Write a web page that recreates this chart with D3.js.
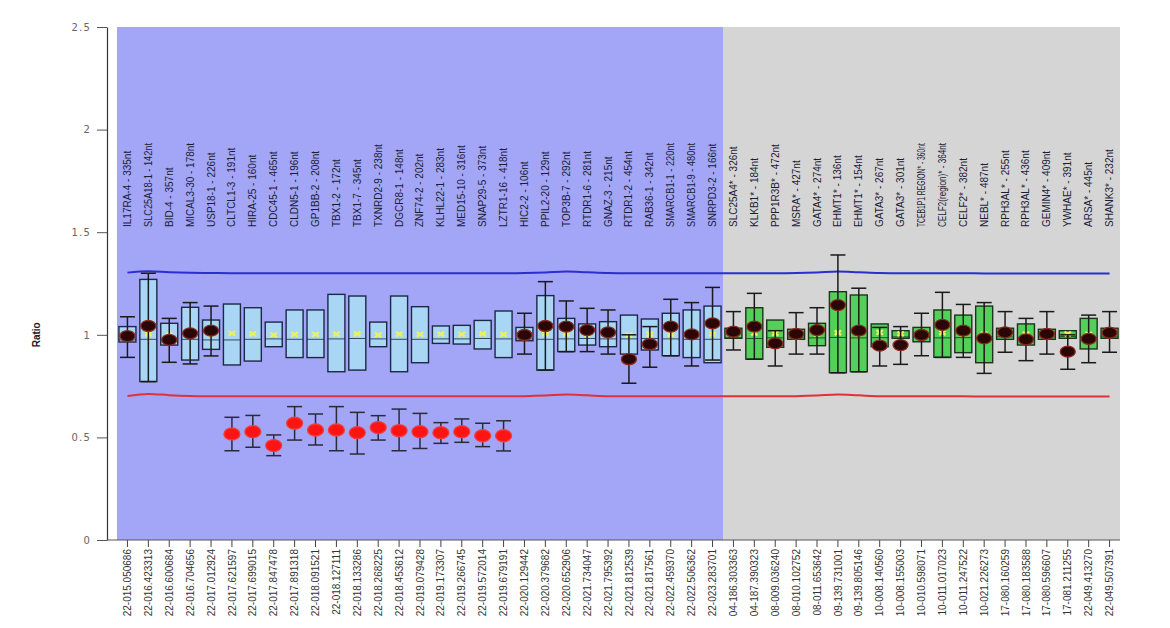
<!DOCTYPE html>
<html>
<head>
<meta charset="utf-8">
<script src="https://cdn.jsdelivr.net/npm/d3@7"></script>
<style>
  body { margin: 0; background: #ffffff; }
  svg { display: block; }
</style>
</head>
<body>
<svg id="chart" width="1170" height="628"></svg>
<script>
// Probe names (top labels)
const probes = [
  "IL17RA-4 - 335nt", "SLC25A18-1 - 142nt", "BID-4 - 357nt", "MICAL3-30 - 178nt",
  "USP18-1 - 226nt", "CLTCL1-3 - 191nt", "HIRA-25 - 160nt", "CDC45-1 - 465nt",
  "CLDN5-1 - 196nt", "GP1BB-2 - 208nt", "TBX1-2 - 172nt", "TBX1-7 - 345nt",
  "TXNRD2-9 - 238nt", "DGCR8-1 - 148nt", "ZNF74-2 - 202nt", "KLHL22-1 - 283nt",
  "MED15-10 - 316nt", "SNAP29-5 - 373nt", "LZTR1-16 - 418nt", "HIC2-2 - 106nt",
  "PPIL2-20 - 129nt", "TOP3B-7 - 292nt", "RTDR1-6 - 281nt", "GNAZ-3 - 215nt",
  "RTDR1-2 - 454nt", "RAB36-1 - 342nt", "SMARCB1-1 - 220nt", "SMARCB1-9 - 480nt",
  "SNRPD3-2 - 166nt",
  "SLC25A4* - 326nt", "KLKB1* - 184nt", "PPP1R3B* - 472nt", "MSRA* - 427nt",
  "GATA4* - 274nt", "EHMT1* - 136nt", "EHMT1* - 154nt", "GATA3* - 267nt",
  "GATA3* - 301nt", "TCEB1P1 REGION* - 360nt", "CELF2(region)* - 364nt", "CELF2* - 382nt",
  "NEBL* - 487nt", "RPH3AL* - 255nt", "RPH3AL* - 436nt", "GEMIN4* - 409nt",
  "YWHAE* - 391nt", "ARSA* - 445nt", "SHANK3* - 232nt"
];

// Genomic positions (bottom tick labels)
const positions = [
  "22-015.050686", "22-016.423313", "22-016.600684", "22-016.704656", "22-017.012924",
  "22-017.621597", "22-017.699015", "22-017.847478", "22-017.891318", "22-018.091521",
  "22-018.127111", "22-018.133286", "22-018.268225", "22-018.453612", "22-019.079428",
  "22-019.173307", "22-019.266745", "22-019.572014", "22-019.679191", "22-020.129442",
  "22-020.379682", "22-020.652906", "22-021.734047", "22-021.795392", "22-021.812539",
  "22-021.817561", "22-022.459370", "22-022.506362", "22-023.283701",
  "04-186.303363", "04-187.390323", "08-009.036240", "08-010.102752", "08-011.653642",
  "09-139.731001", "09-139.805146", "10-008.140560", "10-008.155003", "10-010.598071",
  "10-011.017023", "10-011.247522", "10-021.226273", "17-080.160259", "17-080.183588",
  "17-080.596607", "17-081.211255", "22-049.413270", "22-049.507391"
];

// 0 = test region probes, 1 = reference probes
const probeGroup = [
  0,0,0,0,0,0,0,0,0,0,0,0,0,0,0,0,0,0,0,0,0,0,0,0,0,0,0,0,0,
  1,1,1,1,1,1,1,1,1,1,1,1,1,1,1,1,1,1,1
];

// Control range per probe (box)
const boxLow = [
  0.965, 0.772, 0.950, 0.877, 0.929, 0.853, 0.872, 0.942, 0.889, 0.889,
  0.820, 0.828, 0.942, 0.820, 0.864, 0.958, 0.955, 0.931, 0.889, 0.971,
  0.828, 0.918, 0.950, 0.942, 0.906, 0.926, 0.898, 0.889, 0.864,
  0.983, 0.881, 0.939, 0.978, 0.947, 0.815, 0.820, 0.942, 0.983, 0.966,
  0.890, 0.913, 0.864, 0.978, 0.950, 0.978, 0.983, 0.931, 0.983
];
const boxHigh = [
  1.040, 1.270, 1.056, 1.134, 1.072, 1.150, 1.132, 1.062, 1.121, 1.121,
  1.197, 1.189, 1.062, 1.189, 1.137, 1.043, 1.046, 1.070, 1.116, 1.036,
  1.191, 1.080, 1.053, 1.064, 1.096, 1.077, 1.105, 1.121, 1.140,
  1.032, 1.132, 1.072, 1.027, 1.056, 1.210, 1.194, 1.053, 1.020, 1.036,
  1.121, 1.096, 1.140, 1.032, 1.053, 1.027, 1.020, 1.080, 1.032
];
// Control median and mean
const ctrlMedian = [
  0.975, 0.978, 0.975, 0.978, 0.975, 0.975, 0.978, 0.980, 0.978, 0.978,
  0.980, 0.982, 0.980, 0.978, 0.978, 0.980, 0.980, 0.982, 0.980, 0.980,
  0.978, 0.980, 0.982, 0.980, 0.980, 0.982, 0.980, 0.978, 0.978,
  0.985, 0.982, 0.985, 0.988, 0.985, 0.987, 0.985, 0.986, 0.990, 0.988,
  0.985, 0.986, 0.985, 0.990, 0.986, 0.990, 0.992, 0.986, 0.990
];
const ctrlMean = [
  1.000, 1.005, 1.000, 1.002, 1.005, 1.007, 1.005, 1.000, 1.002, 1.002,
  1.003, 1.005, 1.000, 1.003, 1.002, 1.003, 1.002, 1.005, 1.002, 1.000,
  1.005, 1.005, 1.003, 1.002, 1.000, 1.003, 1.003, 1.002, 1.003,
  1.005, 1.008, 1.007, 1.003, 1.005, 1.010, 1.005, 1.012, 1.005, 1.003,
  1.010, 1.005, 1.003, 1.005, 1.003, 1.005, 1.005, 1.002, 1.005
];

// Patient ratio and its error range
const sampleRatio = [
  0.994, 1.043, 0.975, 1.007, 1.020, 0.517, 0.528, 0.460, 0.569, 0.536,
  0.536, 0.523, 0.548, 0.533, 0.528, 0.523, 0.528, 0.508, 0.508, 0.999,
  1.043, 1.040, 1.023, 1.012, 0.881, 0.954, 1.040, 1.002, 1.056,
  1.015, 1.040, 0.958, 1.004, 1.023, 1.145, 1.020, 0.947, 0.950, 0.999,
  1.048, 1.020, 0.983, 1.012, 0.978, 1.004, 0.918, 0.980, 1.010
];
const errLow = [
  0.890, 0.772, 0.866, 0.858, 0.897, 0.435, 0.452, 0.411, 0.487, 0.463,
  0.435, 0.419, 0.487, 0.435, 0.446, 0.471, 0.476, 0.455, 0.434, 0.906,
  0.828, 0.918, 0.918, 0.906, 0.764, 0.842, 0.898, 0.848, 0.877,
  0.926, 0.881, 0.848, 0.906, 0.906, 0.815, 0.820, 0.848, 0.856, 0.898,
  0.890, 0.890, 0.812, 0.915, 0.874, 0.906, 0.832, 0.864, 0.915
];
const errHigh = [
  1.088, 1.300, 1.080, 1.157, 1.140, 0.598, 0.607, 0.512, 0.650, 0.614,
  0.650, 0.622, 0.606, 0.638, 0.617, 0.572, 0.590, 0.569, 0.581, 1.105,
  1.259, 1.165, 1.129, 1.121, 1.000, 1.040, 1.173, 1.157, 1.231,
  1.113, 1.202, 1.020, 1.108, 1.132, 1.389, 1.227, 1.036, 1.040, 1.105,
  1.207, 1.148, 1.157, 1.113, 1.080, 1.113, 1.000, 1.096, 1.113
];

// Upper and lower decision thresholds per probe
const upperLimit = [
  1.303, 1.310, 1.305, 1.302, 1.301, 1.300, 1.300, 1.300, 1.300, 1.300,
  1.300, 1.300, 1.300, 1.300, 1.300, 1.300, 1.300, 1.300, 1.300, 1.301,
  1.304, 1.309, 1.305, 1.301, 1.300, 1.300, 1.300, 1.300, 1.300,
  1.300, 1.300, 1.300, 1.301, 1.304, 1.309, 1.305, 1.301, 1.300, 1.300,
  1.300, 1.300, 1.299, 1.299, 1.299, 1.299, 1.299, 1.299, 1.299
];
const lowerLimit = [
  0.702, 0.712, 0.706, 0.702, 0.700, 0.700, 0.700, 0.700, 0.700, 0.700,
  0.700, 0.700, 0.700, 0.700, 0.700, 0.700, 0.700, 0.700, 0.700, 0.701,
  0.704, 0.709, 0.705, 0.701, 0.700, 0.700, 0.700, 0.700, 0.700,
  0.700, 0.700, 0.700, 0.701, 0.704, 0.709, 0.705, 0.701, 0.700, 0.700,
  0.700, 0.700, 0.699, 0.699, 0.699, 0.699, 0.699, 0.699, 0.699
];

const yTicks = [0, 0.5, 1, 1.5, 2, 2.5];

// ---- layout ----
const svg = d3.select("#chart");
const plotTop = 27, plotBottom = 540, plotLeft = 117, plotRight = 1120, axisX = 107;

const idx = d3.range(probes.length);
const x = d3.scaleBand().domain(idx).range([plotLeft, plotRight]).paddingInner(0).paddingOuter(0);
const cx = i => x(i) + x.bandwidth() / 2;
const y = d3.scaleLinear().domain([0, 2.5]).range([plotBottom, plotTop]);

const groupFill = ["#a3a6f6", "#d5d5d5"];
const boxFill = ["#a9d6f4", "#54d05a"];
const boxStroke = ["#1d2746", "#1c341c"];

// background panels per group
const groupIds = Array.from(new Set(probeGroup));
groupIds.forEach(g => {
  const members = idx.filter(i => probeGroup[i] === g);
  const x0 = x(d3.min(members)), x1 = x(d3.max(members)) + x.bandwidth();
  svg.append("rect")
    .attr("x", x0).attr("y", plotTop)
    .attr("width", x1 - x0).attr("height", plotBottom - plotTop)
    .attr("fill", groupFill[g]);
});

// axes
const yAxis = d3.axisLeft(y).tickValues(yTicks).tickSize(10).tickSizeOuter(0).tickPadding(6)
  .tickFormat(d3.format(""));
const gy = svg.append("g").attr("transform", `translate(${axisX},0)`).call(yAxis);
gy.select(".domain").attr("stroke", "#333").attr("stroke-width", 1.2);
gy.selectAll(".tick line").attr("stroke", "#555");
gy.selectAll(".tick text")
  .attr("font-family", "DejaVu Sans, sans-serif").attr("font-size", 10)
  .attr("letter-spacing", 1.2).attr("fill", "#666");

const xAxis = d3.axisBottom(x).tickSize(7).tickSizeOuter(0).tickFormat(i => positions[i]);
const gx = svg.append("g").attr("transform", `translate(0,${plotBottom})`).call(xAxis);
gx.select(".domain").remove();
gx.append("line").attr("x1", axisX).attr("x2", plotRight).attr("y1", 0).attr("y2", 0)
  .attr("stroke", "#555").attr("stroke-width", 1);
gx.selectAll(".tick line").attr("stroke", "#444");
gx.selectAll(".tick text")
  .attr("transform", "rotate(-90)")
  .attr("x", -9).attr("y", 0).attr("dy", "0.36em")
  .attr("text-anchor", "end")
  .attr("font-family", "Liberation Sans, Arial, sans-serif")
  .attr("font-size", 10).attr("fill", "#333");

// y-axis title
svg.append("text")
  .attr("transform", `translate(40,${y(1)}) rotate(-90)`)
  .attr("text-anchor", "middle")
  .attr("font-family", "Liberation Sans Narrow, Liberation Sans, sans-serif")
  .attr("font-size", 10).attr("font-weight", "bold").attr("fill", "#222")
  .text("Ratio");

// threshold lines
const limitLine = d3.line().x((d, i) => cx(i)).y(d => y(d)).curve(d3.curveMonotoneX);
svg.append("path").attr("d", limitLine(upperLimit))
  .attr("fill", "none").attr("stroke", "#2b2fd0").attr("stroke-width", 2);
svg.append("path").attr("d", limitLine(lowerLimit))
  .attr("fill", "none").attr("stroke", "#e0303a").attr("stroke-width", 2);

// control boxes
const boxW = 17, capW = 15;
const boxes = svg.append("g");
idx.forEach(i => {
  const g = probeGroup[i];
  boxes.append("rect")
    .attr("x", cx(i) - boxW / 2).attr("y", y(boxHigh[i]))
    .attr("width", boxW).attr("height", y(boxLow[i]) - y(boxHigh[i]))
    .attr("fill", boxFill[g]).attr("stroke", boxStroke[g]).attr("stroke-width", 1.4);
  boxes.append("line")
    .attr("x1", cx(i) - boxW / 2).attr("x2", cx(i) + boxW / 2)
    .attr("y1", y(ctrlMedian[i])).attr("y2", y(ctrlMedian[i]))
    .attr("stroke", boxStroke[g]).attr("stroke-width", 1).attr("opacity", 0.8);
  // control mean marker
  const my = y(ctrlMean[i]), s = 3.2;
  boxes.append("path")
    .attr("d", `M${cx(i) - s},${my - s * 0.7}L${cx(i) + s},${my + s * 0.7}M${cx(i) - s},${my + s * 0.7}L${cx(i) + s},${my - s * 0.7}`)
    .attr("stroke", "#eef25a").attr("stroke-width", 2.2).attr("fill", "none");
});

// patient error bars and ratios
const marks = svg.append("g");
idx.forEach(i => {
  const deleted = sampleRatio[i] < lowerLimit[i];
  const c = cx(i);
  const col = deleted ? "#2a2a3a" : "#1a1a1a";
  marks.append("line").attr("x1", c).attr("x2", c)
    .attr("y1", y(errLow[i])).attr("y2", y(errHigh[i]))
    .attr("stroke", col).attr("stroke-width", 1.5);
  [errLow[i], errHigh[i]].forEach(v => {
    marks.append("line").attr("x1", c - capW / 2).attr("x2", c + capW / 2)
      .attr("y1", y(v)).attr("y2", y(v))
      .attr("stroke", col).attr("stroke-width", 1.5);
  });
  marks.append("ellipse")
    .attr("cx", c).attr("cy", y(sampleRatio[i]))
    .attr("rx", deleted ? 8 : 7.5).attr("ry", deleted ? 6 : 5.5)
    .attr("fill", deleted ? "#ff1414" : "#2a0606")
    .attr("stroke", deleted ? "#f23c3c" : "#8a2a1e").attr("stroke-width", 1.3);
});

// probe labels
const labels = svg.append("g");
idx.forEach(i => {
  const t = labels.append("text")
    .attr("transform", `translate(${cx(i) + 3.5},227) rotate(-90)`)
    .attr("text-anchor", "start")
    .attr("font-family", "Liberation Sans, Arial, sans-serif")
    .attr("font-size", 10).attr("fill", "#1c1c38")
    .text(probes[i]);
  if (t.node().getComputedTextLength() > 84) {
    t.attr("textLength", 84).attr("lengthAdjust", "spacingAndGlyphs");
  }
});
</script>
</body>
</html>
